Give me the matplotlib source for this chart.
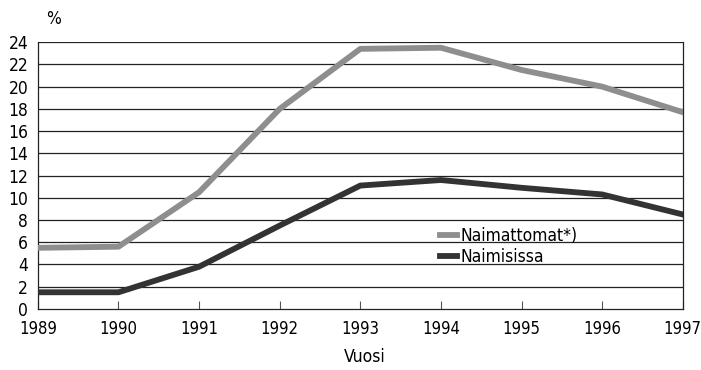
import matplotlib.pyplot as plt

plt.rcParams['font.family'] = ['DejaVu Sans']
plt.rcParams['font.stretch'] = 'condensed'

years = [1989, 1990, 1991, 1992, 1993, 1994, 1995, 1996, 1997]
naimattomat = [5.5, 5.6, 10.5, 18.0, 23.4, 23.5, 21.5, 20.0, 17.7]
naimisissa = [1.5, 1.5, 3.8, 7.5, 11.1, 11.6, 10.9, 10.3, 8.5]
yticks = list(range(0, 26, 2))

fig = plt.figure(figsize=(7.01, 3.70), dpi=100)
ax = fig.add_axes([0.054, 0.165, 0.920, 0.721])

for y in yticks[1:]:
    ax.axhline(y, color='#222222', lw=0.9, zorder=1)

ax.plot(years, naimattomat, color='#8e8e8e', lw=4.2, label='Naimattomat*)', zorder=3)
ax.plot(years, naimisissa, color='#333333', lw=4.2, label='Naimisissa', zorder=3)

ax.set_xlim(1989, 1997)
ax.set_ylim(0, 24)
ax.set_xticks(years)
ax.set_yticks(yticks)
ax.tick_params(axis='x', direction='in', length=6, width=0.8, color='#555555',
               labelsize=12, pad=8)
ax.tick_params(axis='y', length=0, labelsize=12.5, pad=7)
ax.spines['top'].set_visible(False)
for s in ['left', 'right', 'bottom']:
    ax.spines[s].set_color('#222222')
    ax.spines[s].set_linewidth(0.9)

fig.text(0.066, 0.95, '%', fontsize=12.5, ha='left', va='center')
fig.text(0.52, 0.035, 'Vuosi', fontsize=12.5, ha='center', va='center')

ax.legend(loc='upper left', bbox_to_anchor=(0.61, 0.34), frameon=False, fontsize=12.5,
          handlelength=1.0, handletextpad=0.2, labelspacing=0.2, borderpad=0)

fig.savefig('out.png', dpi=100)
